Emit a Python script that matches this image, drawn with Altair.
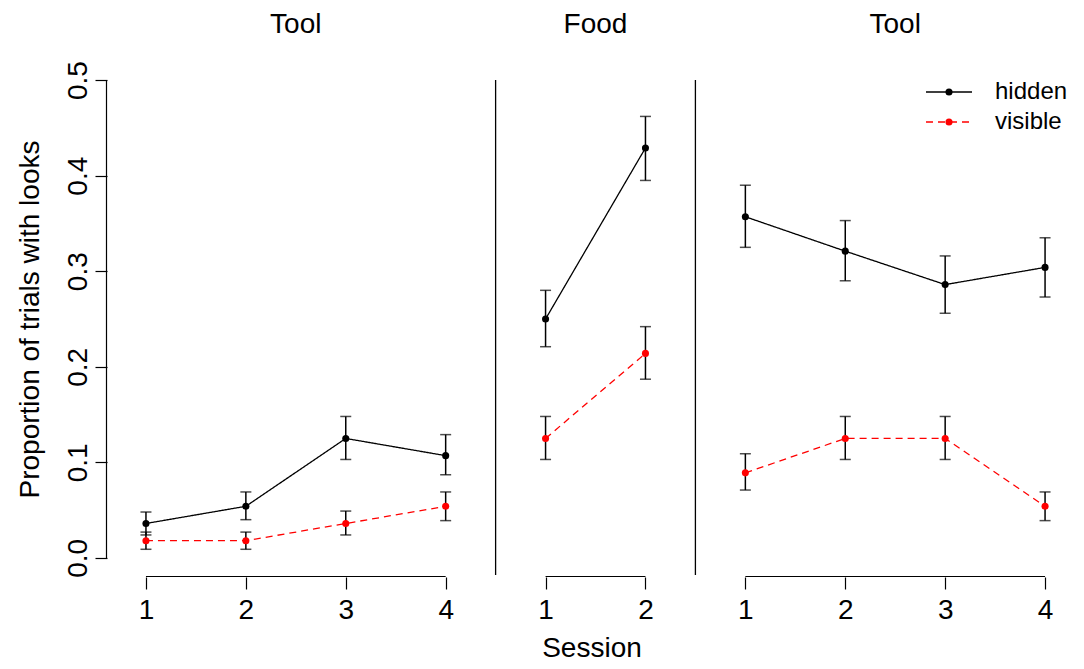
import altair as alt
import pandas as pd

# ---------------- data ----------------
panel_titles = ["Tool", "Food", "Tool"]
panel_sessions = [[1, 2, 3, 4], [1, 2], [1, 2, 3, 4]]
series_names = ["hidden", "visible"]

hidden_mean = [[0.036, 0.054, 0.125, 0.107], [0.250, 0.429], [0.357, 0.321, 0.286, 0.304]]
hidden_lo = [[0.024, 0.040, 0.103, 0.087], [0.221, 0.395], [0.325, 0.290, 0.256, 0.273]]
hidden_hi = [[0.048, 0.069, 0.148, 0.129], [0.280, 0.462], [0.390, 0.353, 0.316, 0.335]]

visible_mean = [[0.018, 0.018, 0.036, 0.054], [0.125, 0.214], [0.089, 0.125, 0.125, 0.054]]
visible_lo = [[0.009, 0.009, 0.024, 0.039], [0.103, 0.187], [0.071, 0.103, 0.103, 0.039]]
visible_hi = [[0.027, 0.027, 0.049, 0.069], [0.148, 0.242], [0.109, 0.148, 0.148, 0.069]]

y_ticks = [0.0, 0.1, 0.2, 0.3, 0.4, 0.5]

# ---------------- build tables ----------------
rows = []
positions, labels = [], []
panel_rows, sep_rows, axis_rows = [], [], []
pos = 0
for p, (title, sess) in enumerate(zip(panel_titles, panel_sessions)):
    start = pos + 1
    for i, s in enumerate(sess):
        pos += 1
        positions.append(pos)
        labels.append(str(s))
        for name, m, lo, hi in [("hidden", hidden_mean, hidden_lo, hidden_hi),
                                ("visible", visible_mean, visible_lo, visible_hi)]:
            rows.append({"pos": pos, "panel": p, "series": name,
                         "val": m[p][i], "lo": lo[p][i], "hi": hi[p][i]})
    end = pos
    panel_rows.append({"title": title, "center": (start + end) / 2})
    axis_rows.append({"a": start, "b": end})
    if p < len(panel_titles) - 1:
        sep_rows.append({"xsep": end + 0.5})

df = pd.DataFrame(rows)
panel_df = pd.DataFrame(panel_rows)
sep_df = pd.DataFrame(sep_rows)
axis_df = pd.DataFrame(axis_rows)

# ---------------- layout / style ----------------
W, H = 969, 516
FONT = "Liberation Sans"
px_per_unit = 99.9
x0 = 0.61
xs = alt.Scale(domain=[x0, x0 + W / px_per_unit], nice=False, zero=False)
ys = alt.Scale(domain=[-0.02, 0.52], nice=False, zero=False)

label_expr = "[" + ",".join("'%s'" % l for l in labels) + "][round(datum.value) - 1]"
XAX = alt.Axis(values=positions, labelExpr=label_expr, domain=False, grid=False,
               tickSize=12, tickColor="black", tickWidth=1.2,
               labelFontSize=28, labelColor="black", labelPadding=7, labelFont=FONT,
               title="Session", titleFontSize=28, titleFontWeight="normal",
               titleColor="black", titlePadding=10, titleFont=FONT)
YAX = alt.Axis(values=y_ticks, format=".1f", domain=False, grid=False,
               tickSize=12, tickColor="black", tickWidth=1.2,
               labelFontSize=28, labelColor="black", labelPadding=9, labelFont=FONT,
               labelAngle=-90, labelAlign="center", labelBaseline="alphabetic",
               title="Proportion of trials with looks", titleFontSize=28,
               titleFontWeight="normal", titleColor="black", titlePadding=20, titleFont=FONT)


def X(field=None, datum=None):
    if datum is not None:
        return alt.X(datum=datum, type="quantitative", scale=xs, axis=XAX)
    return alt.X(field, type="quantitative", scale=xs, axis=XAX)


def Y(field=None, datum=None):
    if datum is not None:
        return alt.Y(datum=datum, type="quantitative", scale=ys, axis=YAX)
    return alt.Y(field, type="quantitative", scale=ys, axis=YAX)


color_scale = alt.Scale(domain=series_names, range=["#000000", "#ff0000"])
dash_scale = alt.Scale(domain=series_names, range=[[1, 0], [7, 5]])

base = alt.Chart(df)

err = base.mark_rule(color="black", strokeWidth=1.5).encode(
    x=X("pos"), y=Y("lo"), y2="hi")
cap_lo = base.mark_tick(color="black", orient="horizontal", size=11, thickness=1.5).encode(
    x=X("pos"), y=Y("lo"))
cap_hi = base.mark_tick(color="black", orient="horizontal", size=11, thickness=1.5).encode(
    x=X("pos"), y=Y("hi"))

lines = base.mark_line(strokeWidth=1.3).encode(
    x=X("pos"), y=Y("val"),
    color=alt.Color("series:N", scale=color_scale, legend=None),
    strokeDash=alt.StrokeDash("series:N", scale=dash_scale, legend=None),
    detail="panel:N")

points = base.mark_point(filled=True, size=50, opacity=1).encode(
    x=X("pos"), y=Y("val"),
    color=alt.Color("series:N", scale=color_scale, legend=None))

seps = alt.Chart(sep_df).mark_rule(color="black", strokeWidth=1.3).encode(
    x=X("xsep"), y=Y(datum=0.5), y2=alt.Y2(datum=-0.018))

xaxis_lines = alt.Chart(axis_df).mark_rule(color="black", strokeWidth=1.2).encode(
    x=X("a"), x2="b", y=alt.value(H - 0.5))

yaxis_line = alt.Chart(pd.DataFrame({"lo": [y_ticks[0]], "hi": [y_ticks[-1]]})).mark_rule(
    color="black", strokeWidth=1.2).encode(x=alt.value(-0.5), y=Y("lo"), y2="hi")

titles = alt.Chart(panel_df).mark_text(fontSize=28, font=FONT, color="black",
                                       baseline="alphabetic", align="center").encode(
    x=X("center"), y=alt.value(-28), text="title:N")

# legend (top right)
legend_layers = []
leg_colors = ["#000000", "#ff0000"]
leg_dash = [[1, 0], [7, 5]]
for i, name in enumerate(series_names):
    ly = 31 + 30 * i
    ldf = pd.DataFrame({"series": [name]})
    legend_layers.append(alt.Chart(ldf).mark_rule(color=leg_colors[i], strokeWidth=1.3,
                                                  strokeDash=leg_dash[i]).encode(
        x=alt.value(819), x2=alt.value(865), y=alt.value(ly)))
    legend_layers.append(alt.Chart(ldf).mark_point(filled=True, size=50, opacity=1,
                                                   color=leg_colors[i]).encode(
        x=alt.value(842), y=alt.value(ly)))
    legend_layers.append(alt.Chart(ldf).mark_text(fontSize=24, font=FONT, color="black",
                                                  align="left", baseline="middle").encode(
        x=alt.value(888), y=alt.value(ly), text="series:N"))

chart = alt.layer(
    seps, xaxis_lines, yaxis_line, err, cap_lo, cap_hi, lines, points, titles, *legend_layers
).properties(
    width=W, height=H,
    autosize=alt.AutoSizeParams(type="none"),
    padding={"left": 99, "top": 53, "right": 0, "bottom": 84},
    background="white",
).configure(font=FONT, view=alt.ViewConfig(stroke=None))

chart.save("out.html", embed_options={"renderer": "svg", "actions": False})
